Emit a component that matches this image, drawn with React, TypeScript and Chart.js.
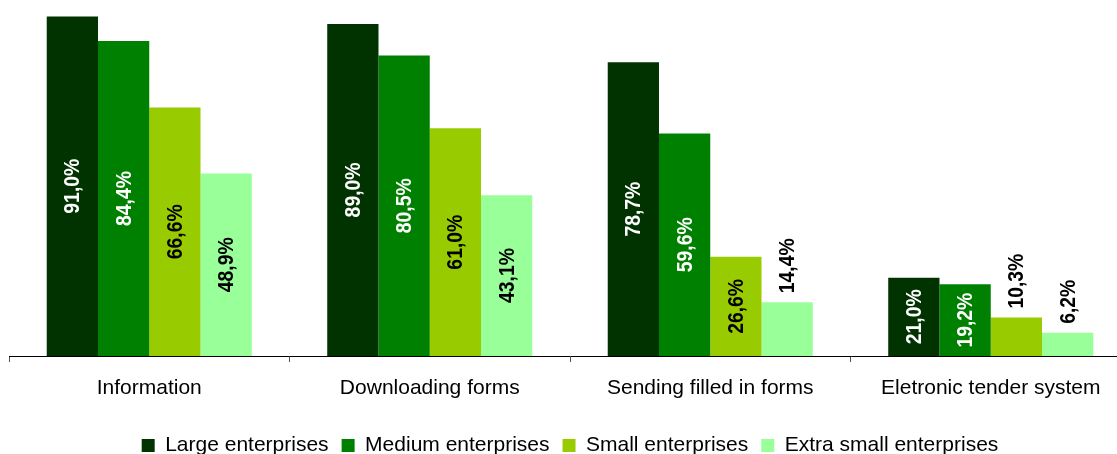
import React, { useEffect, useRef } from "react";
import { Chart, registerables } from "chart.js";

Chart.register(...registerables);

const categories = ["Information", "Downloading forms", "Sending filled in forms", "Eletronic tender system"];
const seriesNames = ["Large enterprises", "Medium enterprises", "Small enterprises", "Extra small enterprises"];
const largeValues = [91.0, 89.0, 78.7, 21.0];
const mediumValues = [84.4, 80.5, 59.6, 19.2];
const smallValues = [66.6, 61.0, 26.6, 10.3];
const extraSmallValues = [48.9, 43.1, 14.4, 6.2];
const seriesColors = ["#003300", "#008000", "#99CC00", "#99FF99"];
const labelColors = ["#FFFFFF", "#FFFFFF", "#000000", "#000000"];

const FONT = "'Liberation Sans', Arial, sans-serif";
const LABEL_SQUEEZE = 0.88;

const labelPlugin = {
  id: "barLabels",
  afterDatasetsDraw(chart: any) {
    const ctx = chart.ctx;
    ctx.save();
    ctx.font = `bold 22px ${FONT}`;
    chart.data.datasets.forEach((ds: any, di: number) => {
      const meta = chart.getDatasetMeta(di);
      meta.data.forEach((bar: any, i: number) => {
        const v = ds.data[i] as number;
        const text = v.toFixed(1).replace(".", ",") + "%";
        const w = ctx.measureText(text).width * LABEL_SQUEEZE;
        const h = bar.base - bar.y;
        ctx.save();
        if (h >= w + 6) {
          ctx.translate(bar.x, (bar.y + bar.base) / 2);
          ctx.rotate(-Math.PI / 2);
          ctx.scale(LABEL_SQUEEZE, 1);
          ctx.textAlign = "center";
          ctx.textBaseline = "middle";
          ctx.fillStyle = labelColors[di];
        } else {
          ctx.translate(bar.x, bar.y - 9);
          ctx.rotate(-Math.PI / 2);
          ctx.scale(LABEL_SQUEEZE, 1);
          ctx.textAlign = "left";
          ctx.textBaseline = "middle";
          ctx.fillStyle = "#000000";
        }
        ctx.fillText(text, 0, 1);
        ctx.restore();
      });
    });
    ctx.restore();
  },
};

export default function App() {
  const ref = useRef<HTMLCanvasElement>(null);
  useEffect(() => {
    if (!ref.current) return;
    const values = [largeValues, mediumValues, smallValues, extraSmallValues];
    const chart = new Chart(ref.current, {
      type: "bar",
      data: {
        labels: categories,
        datasets: seriesNames.map((name, i) => ({
          label: name,
          data: values[i],
          backgroundColor: seriesColors[i],
          borderWidth: 0,
          categoryPercentage: 0.731,
          barPercentage: 1.0,
        })),
      },
      options: {
        responsive: false,
        animation: false,
        devicePixelRatio: 1,
        layout: { padding: { left: 9, right: 1, top: 0, bottom: 0 } },
        plugins: {
          legend: {
            position: "bottom",
            labels: {
              boxWidth: 13,
              boxHeight: 13,
              padding: 13,
              color: "#000000",
              font: { family: FONT, size: 21 },
            },
          },
          tooltip: { enabled: false },
        },
        scales: {
          x: {
            grid: {
              display: true,
              drawOnChartArea: false,
              drawTicks: true,
              tickLength: 6,
              offset: true,
              color: "#555555",
            },
            border: { display: true, color: "#000000", width: 1 },
            ticks: {
              color: "#000000",
              padding: 14,
              font: { family: FONT, size: 21 },
              maxRotation: 0,
              autoSkip: false,
            },
            afterFit: (scale: any) => {
              scale.height = 66;
            },
          },
          y: {
            display: false,
            min: 0,
            max: 95.4,
          },
        },
      },
      plugins: [labelPlugin],
    });
    return () => chart.destroy();
  }, []);
  return (
    <div style={{ position: "absolute", left: 0, top: 0, width: 1117, height: 454, overflow: "hidden", background: "#fff" }}>
      <canvas ref={ref} width={1132} height={466} style={{ width: 1132, height: 466, display: "block" }} />
    </div>
  );
}
